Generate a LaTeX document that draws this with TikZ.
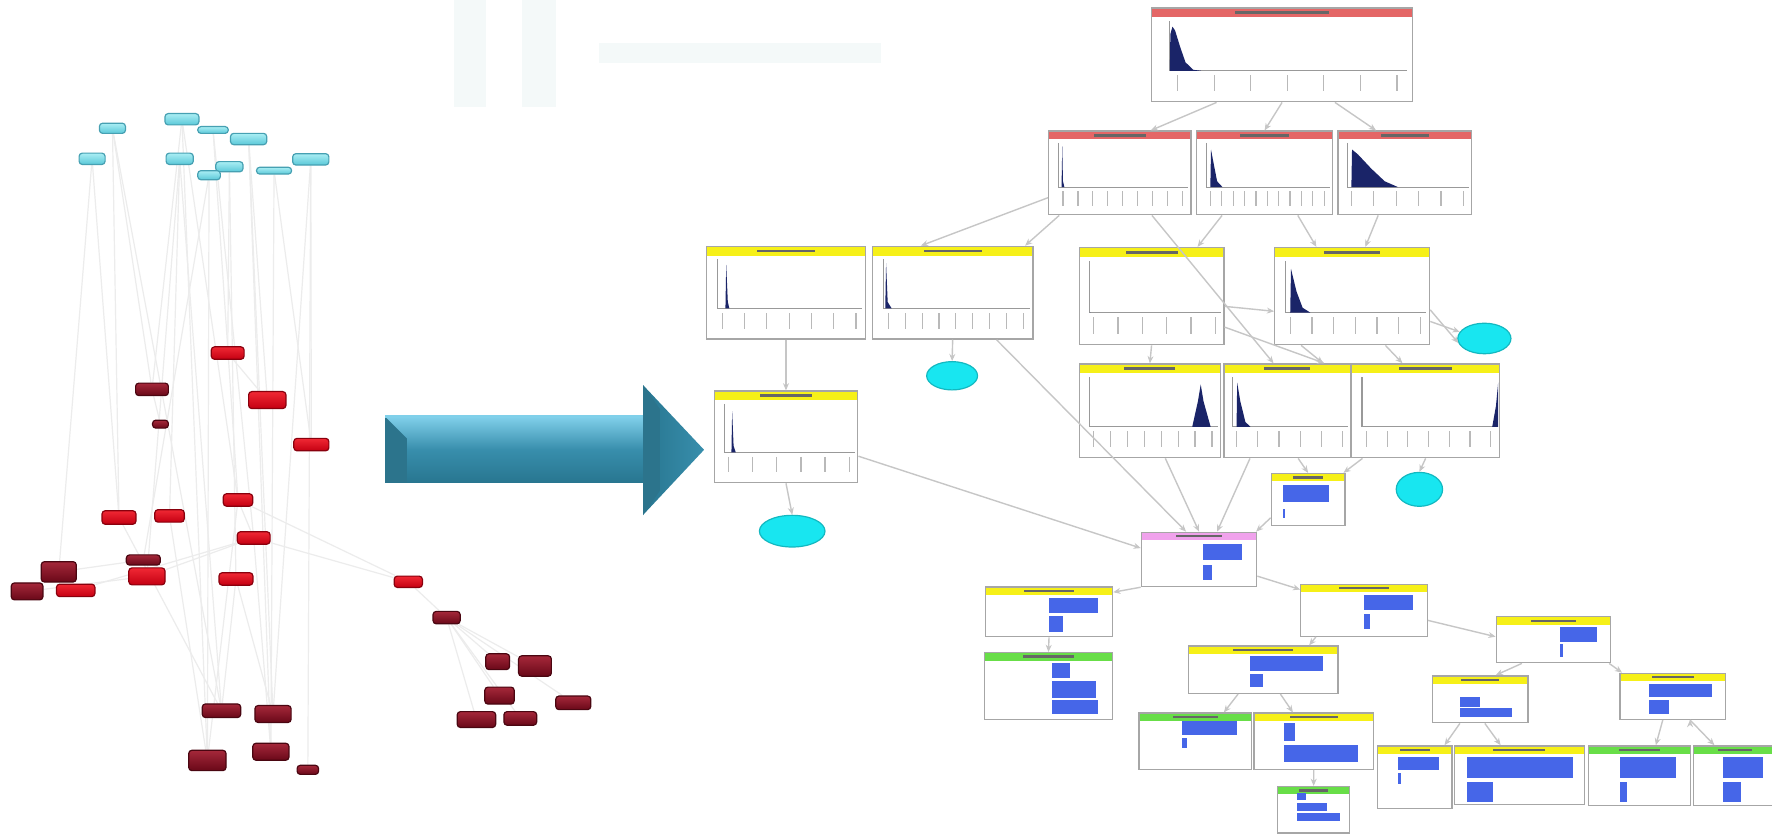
\documentclass[tikz,border=0pt]{standalone}
\usepackage{tikz}
\usetikzlibrary{fit, shapes.geometric, arrows.meta, backgrounds}

% colours
\definecolor{cyanhi}{RGB}{170,238,244}
\definecolor{cyanlo}{RGB}{90,200,216}
\definecolor{cyanrim}{RGB}{70,160,178}
\definecolor{redhi}{RGB}{240,40,52}
\definecolor{redlo}{RGB}{196,0,18}
\definecolor{darkhi}{RGB}{165,40,58}
\definecolor{darklo}{RGB}{105,8,24}
\definecolor{arrowhi}{RGB}{128,208,234}
\definecolor{arrowmid}{RGB}{56,142,172}
\definecolor{arrowlo}{RGB}{40,118,144}
\definecolor{arrowdark}{RGB}{44,116,140}
\definecolor{headred}{RGB}{228,102,102}
\definecolor{headyellow}{RGB}{246,240,24}
\definecolor{headgreen}{RGB}{104,222,72}
\definecolor{headpink}{RGB}{240,162,236}
\definecolor{barblue}{RGB}{70,102,232}
\definecolor{curvenavy}{RGB}{26,36,104}
\definecolor{ovalcyan}{RGB}{24,230,240}
\definecolor{wmark}{RGB}{244,249,249}

\tikzset{
  cnode/.style={rectangle, rounded corners=0.8pt, inner sep=0pt,
    draw=cyanrim, line width=0.3pt, top color=cyanhi, bottom color=cyanlo},
  rnode/.style={rectangle, rounded corners=0.8pt, inner sep=0pt,
    draw=redlo!70!black, line width=0.3pt, top color=redhi, bottom color=redlo},
  dnode/.style={rectangle, rounded corners=0.8pt, inner sep=0pt,
    draw=darklo!70!black, line width=0.3pt, top color=darkhi, bottom color=darklo},
  linkedge/.style={draw=gray!15, line width=0.3pt},
  netbox/.style={rectangle, inner sep=0pt, fill=white, draw=gray!70, line width=0.35pt},
  boxline/.style={draw=gray!70, line width=0.35pt},
  axisline/.style={draw=gray!80, line width=0.3pt},
  tickline/.style={draw=gray!55, line width=0.3pt},
  titleink/.style={fill=black!60},
  oval/.style={ellipse, inner sep=0pt, fill=ovalcyan, draw=ovalcyan!80!black, line width=0.3pt},
  netedge/.style={draw=gray!45, line width=0.35pt, -{Stealth[length=1.8pt, width=1.5pt]}},
}

% chart node: name, corners, header colour, curve, number of ticks
\newcommand{\chartbox}[8]{%
  \node[netbox, fit={(#2,#3) (#4,#5)}] (#1) {};
  \pgfmathsetmacro{\cw}{#4-#2}\pgfmathsetmacro{\ch}{#5-#3}
  \begin{scope}[shift={(#2,#3)}, xscale=\cw, yscale=\ch]
    \fill[#6] (0,0) rectangle (1,0.1);
    \fill[titleink] (0.32,0.035) rectangle (0.68,0.065);
    \draw[axisline] (0.07,0.14) -- (0.07,0.67) -- (0.98,0.67);
    \fill[curvenavy] plot coordinates {#7} -- cycle;
    \foreach \k in {1,...,#8}
      \draw[tickline] ({0.1+(\k-1)*0.84/(#8-1)},0.72) -- ++(0,0.17);
  \end{scope}
  \draw[boxline] (#2,#3) rectangle (#4,#5);
}

% bar node: name, corners, header colour, bars
\newcommand{\barbox}[7]{%
  \node[netbox, fit={(#2,#3) (#4,#5)}] (#1) {};
  \fill[#6] (#2,#3) rectangle (#4,#3+7);
  \fill[titleink] ({#2+0.3*(#4-#2)},#3+2.5) rectangle ({#4-0.3*(#4-#2)},#3+4.5);
  \foreach \xa/\ya/\xb/\yb in {#7}
    \fill[barblue] (\xa,\ya) rectangle (\xb,\yb);
  \draw[boxline] (#2,#3) rectangle (#4,#5);
}

\begin{document}
\begin{tikzpicture}[x=0.01cm, y=-0.01cm]
  \useasboundingbox (0,0) rectangle (1568,738);
  \begin{pgfonlayer}{background}
    \fill[white] (0,0) rectangle (1568,738);
  \end{pgfonlayer}

  % faint watermark
  \fill[wmark] (402,0) rectangle (430,95);
  \fill[wmark] (462,0) rectangle (492,95);
  \fill[wmark] (530,38) rectangle (780,56);

  %%% source graph
  \node[cnode, minimum width=0.23cm, minimum height=0.09cm] (ca) at (99.5,113.5) {};
  \node[cnode, minimum width=0.30cm, minimum height=0.10cm] (cb) at (161,105.5) {};
  \node[cnode, minimum width=0.27cm, minimum height=0.06cm] (cc) at (188.5,115) {};
  \node[cnode, minimum width=0.32cm, minimum height=0.10cm] (cd) at (220,123) {};
  \node[cnode, minimum width=0.23cm, minimum height=0.10cm] (ce) at (81.5,140.5) {};
  \node[cnode, minimum width=0.24cm, minimum height=0.10cm] (cf) at (159,140.5) {};
  \node[cnode, minimum width=0.24cm, minimum height=0.09cm] (cg) at (203,147.5) {};
  \node[cnode, minimum width=0.20cm, minimum height=0.08cm] (ch) at (185,155) {};
  \node[cnode, minimum width=0.31cm, minimum height=0.06cm] (ci) at (242.5,151) {};
  \node[cnode, minimum width=0.32cm, minimum height=0.10cm] (cj) at (275,141) {};

  \node[rnode, minimum width=0.29cm, minimum height=0.11cm] (r1) at (201.5,312.4) {};
  \node[dnode, minimum width=0.29cm, minimum height=0.11cm] (r2) at (134.5,344.5) {};
  \node[rnode, minimum width=0.33cm, minimum height=0.15cm] (r3) at (236.5,354) {};
  \node[dnode, minimum width=0.14cm, minimum height=0.07cm] (r4) at (142,375.3) {};
  \node[rnode, minimum width=0.31cm, minimum height=0.11cm] (r5) at (275.5,393.4) {};
  \node[rnode, minimum width=0.26cm, minimum height=0.11cm] (r6) at (210.6,442.4) {};
  \node[rnode, minimum width=0.30cm, minimum height=0.12cm] (r7) at (105.3,457.9) {};
  \node[rnode, minimum width=0.26cm, minimum height=0.11cm] (r8) at (150,456.5) {};
  \node[rnode, minimum width=0.29cm, minimum height=0.11cm] (r9) at (224.5,476) {};
  \node[dnode, minimum width=0.30cm, minimum height=0.09cm] (r10) at (126.8,495.5) {};
  \node[dnode, minimum width=0.31cm, minimum height=0.18cm] (r11) at (52,506) {};
  \node[rnode, minimum width=0.32cm, minimum height=0.15cm] (r12) at (130,510) {};
  \node[dnode, minimum width=0.28cm, minimum height=0.15cm] (r13) at (24,523.3) {};
  \node[rnode, minimum width=0.34cm, minimum height=0.11cm] (r14) at (67,522.4) {};
  \node[rnode, minimum width=0.30cm, minimum height=0.11cm] (r15) at (208.8,512.3) {};
  \node[rnode, minimum width=0.25cm, minimum height=0.10cm] (r16) at (361.3,514.8) {};
  \node[dnode, minimum width=0.24cm, minimum height=0.11cm] (r17) at (395.2,546.5) {};
  \node[dnode, minimum width=0.21cm, minimum height=0.14cm] (r18) at (440.4,585.5) {};
  \node[dnode, minimum width=0.29cm, minimum height=0.18cm] (r19) at (473.4,589.3) {};
  \node[dnode, minimum width=0.26cm, minimum height=0.15cm] (r20) at (442,615.5) {};
  \node[dnode, minimum width=0.31cm, minimum height=0.12cm] (r21) at (507.3,621.9) {};
  \node[dnode, minimum width=0.34cm, minimum height=0.14cm] (r22) at (421.6,636.7) {};
  \node[dnode, minimum width=0.29cm, minimum height=0.12cm] (r23) at (460.4,635.7) {};
  \node[dnode, minimum width=0.34cm, minimum height=0.12cm] (r24) at (196,628.9) {};
  \node[dnode, minimum width=0.32cm, minimum height=0.15cm] (r25) at (241.6,631.8) {};
  \node[dnode, minimum width=0.33cm, minimum height=0.18cm] (r26) at (183.5,672.9) {};
  \node[dnode, minimum width=0.32cm, minimum height=0.15cm] (r27) at (239.7,665.2) {};
  \node[dnode, minimum width=0.19cm, minimum height=0.08cm] (r28) at (272.4,681.2) {};

  % links run behind the boxes
  \begin{pgfonlayer}{background}
  \path[linkedge]
    (ca) edge (r2)  (ca) edge (r7)  (ca) edge (r24)
    (cb) edge (r2)  (cb) edge (r26) (cb) edge (r6)
    (cc) edge (r6)  (cc) edge (r9)
    (cd) edge (r3)  (cd) edge (r25) (cd) edge (r27)
    (ce) edge (r7)  (ce) edge (r11)
    (cf) edge (r8)  (cf) edge (r12) (cf) edge (r24)
    (cg) edge (r1)  (cg) edge (r15)
    (ch) edge (r26) (ch) edge (r10)
    (ci) edge (r5)  (ci) edge (r27)
    (cj) edge (r5)  (cj) edge (r28) (cj) edge (r25)
    (r1) edge (r3)  (r2) edge (r4)  (r6) edge (r9)
    (r9) edge (r16) (r6) edge (r16) (r16) edge (r17)
    (r17) edge (r18) (r17) edge (r19) (r17) edge (r20)
    (r17) edge (r22) (r17) edge (r23) (r17) edge (r21)
    (r9) edge (r12) (r9) edge (r14) (r10) edge (r11) (r12) edge (r13)
    (r15) edge (r24) (r15) edge (r25) (r9) edge (r27)
    (r6) edge (r26) (r8) edge (r26) (r7) edge (r24);
  \end{pgfonlayer}

  %%% big arrow
  \shade[top color=arrowhi, bottom color=arrowlo, middle color=arrowmid]
    (340.7,368.7) rectangle (569,427);
  \fill[arrowdark] (340.7,368.7) -- (360,388) -- (360,427) -- (340.7,427) -- cycle;
  \shade[left color=arrowlo, right color=arrowmid]
    (569,340.7) -- (623,398) -- (569,455.7) -- cycle;
  \fill[arrowdark] (569,340.7) -- (584,362) -- (584,434) -- (569,455.7) -- cycle;
  \draw[arrowhi, line width=0.6pt] (340.7,368.7) -- (569,368.7);

  %%% network
  % distributions
  \chartbox{T}{1019}{7}{1250}{90}{headred}
    {(0.07,0.67) (0.072,0.28) (0.08,0.2) (0.09,0.24) (0.11,0.42) (0.13,0.58) (0.16,0.66) (0.19,0.67)}{7}
  \chartbox{R1}{928}{116}{1054}{190}{headred}
    {(0.09,0.67) (0.095,0.18) (0.1,0.6) (0.11,0.67)}{9}
  \chartbox{R2}{1059}{116}{1179}{190}{headred}
    {(0.1,0.67) (0.105,0.22) (0.12,0.35) (0.15,0.6) (0.19,0.67)}{11}
  \chartbox{R3}{1184}{116}{1302}{190}{headred}
    {(0.1,0.67) (0.105,0.22) (0.15,0.28) (0.25,0.45) (0.35,0.6) (0.45,0.67)}{6}
  \chartbox{Y1}{625}{218}{766}{300}{headyellow}
    {(0.12,0.67) (0.125,0.2) (0.135,0.6) (0.145,0.67)}{7}
  \chartbox{Y2}{772}{218}{914}{300}{headyellow}
    {(0.08,0.67) (0.085,0.18) (0.095,0.6) (0.12,0.67)}{9}
  \chartbox{Y3}{955}{219}{1083}{305}{headyellow}
    {(0.07,0.67) (0.08,0.67)}{6}
  \chartbox{Y4}{1128}{219}{1265}{305}{headyellow}
    {(0.1,0.67) (0.105,0.22) (0.14,0.45) (0.18,0.62) (0.23,0.67)}{7}
  \chartbox{Y5}{632}{346}{759}{427}{headyellow}
    {(0.12,0.67) (0.125,0.22) (0.135,0.6) (0.15,0.67)}{6}
  \chartbox{Y6}{955}{322}{1080}{405}{headyellow}
    {(0.8,0.67) (0.84,0.4) (0.86,0.22) (0.88,0.4) (0.93,0.67)}{8}
  \chartbox{Y7}{1083}{322}{1195}{405}{headyellow}
    {(0.1,0.67) (0.105,0.2) (0.13,0.4) (0.17,0.62) (0.21,0.67)}{6}
  \chartbox{Y8}{1196}{322}{1327}{405}{headyellow}
    {(0.95,0.67) (0.975,0.45) (0.99,0.2) (0.99,0.67)}{7}

  % states
  \barbox{B1}{1125}{419}{1190}{465}{headyellow}
    {1135.6/429/1176.3/444, 1135.6/450/1137.2/458}
  \barbox{P}{1010}{471}{1112}{519}{headpink}
    {1064.5/481.4/1099/495.6, 1064.5/500/1072.5/513}
  \barbox{Ya}{872}{519.4}{984.5}{563.4}{headyellow}
    {928/529.5/972/542, 928/545.4/940.6/559}
  \barbox{Ga}{871}{577.5}{984.5}{636.5}{headgreen}
    {931/586.7/946.5/600, 931/603/969.6/618, 931/619/971.5/631.5}
  \barbox{Yb}{1151}{517}{1263}{563}{headyellow}
    {1207/526.5/1250/540, 1207/543/1212/557}
  \barbox{Yc}{1324}{545.7}{1425}{586.4}{headyellow}
    {1380/554.5/1413/568, 1380/569.6/1383.5/581.4}
  \barbox{Yd}{1051.8}{571.6}{1184}{613.5}{headyellow}
    {1106/580.5/1171/593.5, 1106/596/1118/607.8}
  \barbox{Gb}{1007.7}{631}{1107.4}{680.7}{headgreen}
    {1046.2/637.7/1095/650.4, 1046.2/653.3/1050/662}
  \barbox{Ye}{1109.6}{631}{1215.5}{680.7}{headyellow}
    {1135.8/640/1146/655.4, 1135.8/659.3/1201.7/674}
  \barbox{Gc}{1130.6}{696}{1194.2}{737}{headgreen}
    {1148/702/1156/708, 1148/710.6/1174/717.4, 1148/719.4/1185.6/726.6}
  \barbox{Yf}{1267.5}{598}{1352}{639.5}{headyellow}
    {1291.7/616.5/1310/625.3, 1291.7/626.8/1338/634.2}
  \barbox{Yg}{1433.5}{595.8}{1527}{636.5}{headyellow}
    {1459/605/1515/617, 1459/619/1477/631.5}
  \barbox{Yh}{1218.8}{660}{1285}{715.3}{headyellow}
    {1237.4/670/1273/681.4, 1237.4/684/1239.5/694}
  \barbox{Yi}{1287}{660}{1402}{712}{headyellow}
    {1297.7/670/1392/688, 1297.7/691.7/1321/709.4}
  \barbox{Gd}{1405.8}{660}{1495.8}{713}{headgreen}
    {1433.5/670/1483/688.5, 1433.5/691.7/1440/709.4}
  \barbox{Ge}{1498.6}{660}{1572}{713}{headgreen}
    {1525/670/1560/688.5, 1525/691.7/1541/709.4}

  % evidence ovals
  \node[oval, minimum width=0.45cm, minimum height=0.25cm] (E1) at (842.5,332.5) {};
  \node[oval, minimum width=0.47cm, minimum height=0.27cm] (E2) at (1313.5,299.5) {};
  \node[oval, minimum width=0.41cm, minimum height=0.30cm] (E3) at (1256,433) {};
  \node[oval, minimum width=0.58cm, minimum height=0.28cm] (E4) at (701,470) {};

  % arcs
  \path[netedge]
    (T.216) edge (R1.54)
    (T.south) edge (R2.north)
    (T.318) edge (R3.124)
    (R1.199) edge (Y2.124)
    (R1.215) edge (Y2.33)
    (R1.307) edge (Y7.106)
    (R2.225) edge (Y3.47)
    (R2.308) edge (Y4.126)
    (R3.238) edge (Y4.75)
    (Y3.352) edge (Y4.191)
    (Y3.337) edge (Y7.52)
    (Y3.south) edge (Y6.north)
    (Y4.224) edge (Y7.53)
    (Y4.304) edge (Y8.116)
    (Y4.342) edge (E2.165)
    (Y4.350) edge (E2.190)
    (Y1.south) edge (Y5.north)
    (Y2.south) edge (E1.north)
    (Y2.313) edge (P.115)
    (Y5.345) edge (P.169)
    (Y5.south) edge (E4.north)
    (Y6.288) edge (P.north)
    (Y7.232) edge (P.57)
    (Y7.283) edge (B1.north)
    (Y8.217) edge (B1.37)
    (Y8.south) edge (E3.north)
    (B1.206) edge (P.26)
    (P.south west) edge (Ya.17)
    (P.344) edge (Yb.162)
    (Ya.south) edge (Ga.north)
    (Yb.209) edge (Yd.28)
    (Yb.351) edge (Yc.177)
    (Yd.224) edge (Gb.45)
    (Yd.305) edge (Ye.126)
    (Ye.south) edge (Gc.north)
    (Yc.217) edge (Yf.57)
    (Yc.337) edge (Yg.155)
    (Yf.230) edge (Yh.47)
    (Yf.281) edge (Yi.122)
    (Yg.247) edge (Gd.62)
    (Yg.306) edge (Ge.124);
\end{tikzpicture}
\end{document}
